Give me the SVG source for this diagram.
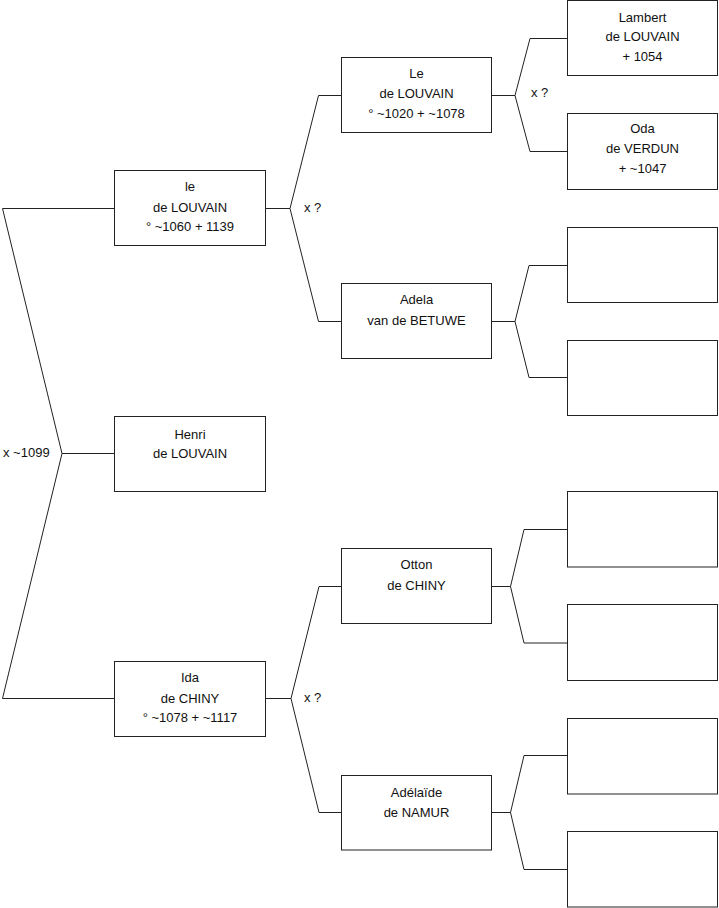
<svg xmlns="http://www.w3.org/2000/svg" width="719" height="908" viewBox="0 0 719 908">
<style>
.box{fill:#fff;stroke:#222;stroke-width:1}
.ln{fill:none;stroke:#222;stroke-width:1}
text{font-family:"Liberation Sans",Arial,sans-serif;font-size:13px;fill:#111}
.c{text-anchor:middle}
</style>
<rect width="719" height="908" fill="#fff"/>
<g id="connectors">
<polyline class="ln" points="114,208.5 2.5,208.5 62,453.5 2.5,698.5 114,698.5"/>
<line class="ln" x1="62" y1="453.5" x2="114" y2="453.5"/>
<polyline class="ln" points="341,95.5 318.5,95.5 290,208.5 318.5,321.5 341,321.5"/>
<line class="ln" x1="265" y1="208.5" x2="290" y2="208.5"/>
<polyline class="ln" points="341,586.5 319,586.5 291,698.5 319,812.5 341,812.5"/>
<line class="ln" x1="265" y1="698.5" x2="291" y2="698.5"/>
<polyline class="ln" points="567,38.5 530,38.5 515,95.5 530,151.5 567,151.5"/>
<line class="ln" x1="491.5" y1="95.5" x2="515" y2="95.5"/>
<polyline class="ln" points="567,265.5 529,265.5 515,321.5 529,377.5 567,377.5"/>
<line class="ln" x1="491.5" y1="321.5" x2="515" y2="321.5"/>
<polyline class="ln" points="567,529.5 524,529.5 510.5,586.5 524,643 567,643"/>
<line class="ln" x1="491.5" y1="586.5" x2="510.5" y2="586.5"/>
<polyline class="ln" points="567,755.5 524,755.5 510.5,812.5 524,869.5 567,869.5"/>
<line class="ln" x1="491.5" y1="812.5" x2="510.5" y2="812.5"/>
<text x="3" y="457">x ~1099</text>
<text x="304" y="212">x ?</text>
<text x="304" y="702">x ?</text>
<text x="531" y="97">x ?</text>
</g>
<g id="n-le">
<rect class="box" x="114.5" y="170.5" width="151" height="75"/>
<text class="c" x="190" y="191">le</text>
<text class="c" x="190" y="211.5">de LOUVAIN</text>
<text class="c" x="190" y="231">° ~1060 + 1139</text>
</g>
<g id="n-henri">
<rect class="box" x="114.5" y="416.5" width="151" height="75"/>
<text class="c" x="190" y="439">Henri</text>
<text class="c" x="190" y="458">de LOUVAIN</text>
</g>
<g id="n-ida">
<rect class="box" x="114.5" y="661.5" width="151" height="75"/>
<text class="c" x="190" y="682">Ida</text>
<text class="c" x="190" y="702.5">de CHINY</text>
<text class="c" x="190" y="722">° ~1078 + ~1117</text>
</g>
<g id="n-Le">
<rect class="box" x="341.5" y="57.5" width="150" height="75"/>
<text class="c" x="416.5" y="77.5">Le</text>
<text class="c" x="416.5" y="98">de LOUVAIN</text>
<text class="c" x="416.5" y="118">° ~1020 + ~1078</text>
</g>
<g id="n-adela">
<rect class="box" x="341.5" y="283.5" width="150" height="75"/>
<text class="c" x="416.5" y="304">Adela</text>
<text class="c" x="416.5" y="325">van de BETUWE</text>
</g>
<g id="n-otton">
<rect class="box" x="341.5" y="548.5" width="150" height="75"/>
<text class="c" x="416.5" y="569">Otton</text>
<text class="c" x="416.5" y="590">de CHINY</text>
</g>
<g id="n-adelaide">
<rect class="box" x="341.5" y="775.5" width="150" height="74.5"/>
<text class="c" x="416.5" y="796.5">Adélaïde</text>
<text class="c" x="416.5" y="816.5">de NAMUR</text>
</g>
<g id="n-lambert">
<rect class="box" x="567.5" y="0.5" width="150" height="75"/>
<text class="c" x="642.5" y="21.5">Lambert</text>
<text class="c" x="642.5" y="41">de LOUVAIN</text>
<text class="c" x="642.5" y="61">+ 1054</text>
</g>
<g id="n-oda">
<rect class="box" x="567.5" y="113.5" width="150" height="76"/>
<text class="c" x="642.5" y="132.5">Oda</text>
<text class="c" x="642.5" y="153">de VERDUN</text>
<text class="c" x="642.5" y="173">+ ~1047</text>
</g>
<g id="n-e1"><rect class="box" x="567.5" y="227.5" width="150" height="75"/></g>
<g id="n-e2"><rect class="box" x="567.5" y="340.5" width="150" height="75"/></g>
<g id="n-e3"><rect class="box" x="567.5" y="491.5" width="150" height="75.5"/></g>
<g id="n-e4"><rect class="box" x="567.5" y="604.5" width="150" height="76"/></g>
<g id="n-e5"><rect class="box" x="567.5" y="718.5" width="150" height="75.5"/></g>
<g id="n-e6"><rect class="box" x="567.5" y="831.5" width="150" height="75.5"/></g>
</svg>
